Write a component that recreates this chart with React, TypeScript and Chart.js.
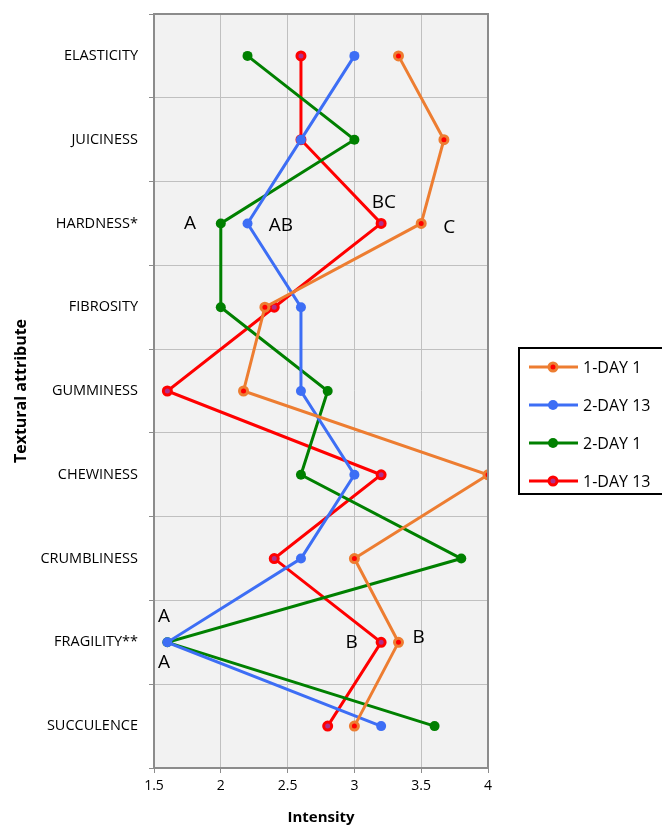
import React, { useEffect, useRef } from "react";
import { Chart, registerables } from "chart.js";

Chart.register(...registerables);

const categories = [
  "ELASTICITY",
  "JUICINESS",
  "HARDNESS*",
  "FIBROSITY",
  "GUMMINESS",
  "CHEWINESS",
  "CRUMBLINESS",
  "FRAGILITY**",
  "SUCCULENCE",
];

const day1Group1 = [3.33, 3.67, 3.5, 2.33, 2.17, 4.0, 3.0, 3.33, 3.0];
const day13Group2 = [3.0, 2.6, 2.2, 2.6, 2.6, 3.0, 2.6, 1.6, 3.2];
const day1Group2 = [2.2, 3.0, 2.0, 2.0, 2.8, 2.6, 3.8, 1.6, 3.6];
const day13Group1 = [2.6, 2.6, 3.2, 2.4, 1.6, 3.2, 2.4, 3.2, 2.8];

const seriesNames = ["1-DAY 1", "2-DAY 13", "2-DAY 1", "1-DAY 13"];

const xTicks = [1.5, 2, 2.5, 3, 3.5, 4];
const xTickLabels = ["1.5", "2", "2.5", "3", "3.5", "4"];

const annotations = [
  { text: "A", category: 2, value: 1.77, shift: 0 },
  { text: "AB", category: 2, value: 2.45, shift: 0.03 },
  { text: "BC", category: 2, value: 3.22, shift: -0.25 },
  { text: "C", category: 2, value: 3.71, shift: 0.05 },
  { text: "A", category: 7, value: 1.575, shift: -0.31 },
  { text: "A", category: 7, value: 1.575, shift: 0.24 },
  { text: "B", category: 7, value: 2.98, shift: 0 },
  { text: "B", category: 7, value: 3.48, shift: -0.06 },
];

const FONT = "'Open Sans', 'DejaVu Sans', sans-serif";

const COLORS = {
  orange: "#ed7d31",
  blue: "#3d6ef5",
  green: "#008000",
  red: "#ff0000",
};

export default function App() {
  const canvasRef = useRef<HTMLCanvasElement | null>(null);

  useEffect(() => {
    document.body.style.margin = "0";
    const canvas = canvasRef.current;
    if (!canvas) return;

    const styles = [
      { color: COLORS.orange, fill: "#ff0000", radius: 4, bw: 3 },
      { color: COLORS.blue, fill: COLORS.blue, radius: 5, bw: 0 },
      { color: COLORS.green, fill: COLORS.green, radius: 5, bw: 0 },
      { color: COLORS.red, fill: "#b0308a", radius: 4, bw: 3 },
    ];
    const values = [day1Group1, day13Group2, day1Group2, day13Group1];

    const bgPlugin = {
      id: "bg",
      beforeDraw(chart: any) {
        const { ctx, chartArea } = chart;
        ctx.save();
        ctx.fillStyle = "#f2f2f2";
        ctx.fillRect(chartArea.left, chartArea.top, chartArea.right - chartArea.left, chartArea.bottom - chartArea.top);
        ctx.restore();
      },
      afterDatasetsDraw(chart: any) {
        const { ctx, chartArea } = chart;
        ctx.save();
        ctx.strokeStyle = "#8c8c8c";
        ctx.lineWidth = 2;
        ctx.strokeRect(chartArea.left, chartArea.top, chartArea.right - chartArea.left, chartArea.bottom - chartArea.top);
        ctx.restore();
      },
    };

    const annotationPlugin = {
      id: "annot",
      afterDraw(chart: any) {
        const { ctx } = chart;
        const xs = chart.scales.x;
        const ys = chart.scales.y;
        const band = ys.getPixelForValue(1) - ys.getPixelForValue(0);
        ctx.save();
        ctx.fillStyle = "#000";
        ctx.font = `19px ${FONT}`;
        ctx.textAlign = "center";
        ctx.textBaseline = "middle";
        annotations.forEach((a) => {
          const x = xs.getPixelForValue(a.value);
          const y = ys.getPixelForValue(a.category) + a.shift * band;
          ctx.fillText(a.text, x, y);
        });
        ctx.restore();
      },
    };

    const legendPlugin = {
      id: "customLegend",
      afterDraw(chart: any) {
        const { ctx } = chart;
        const boxX = 519;
        const boxY = 348;
        const boxW = 200;
        const boxH = 146;
        ctx.save();
        ctx.fillStyle = "#fff";
        ctx.fillRect(boxX, boxY, boxW, boxH);
        ctx.strokeStyle = "#000";
        ctx.lineWidth = 2;
        ctx.strokeRect(boxX, boxY, boxW, boxH);
        const rowGap = 38;
        seriesNames.forEach((name, i) => {
          const s = styles[i];
          const y = boxY + 19 + i * rowGap;
          ctx.strokeStyle = s.color;
          ctx.lineWidth = 3;
          ctx.beginPath();
          ctx.moveTo(529, y);
          ctx.lineTo(578, y);
          ctx.stroke();
          ctx.beginPath();
          ctx.arc(553, y, s.radius, 0, Math.PI * 2);
          ctx.fillStyle = s.fill;
          ctx.fill();
          if (s.bw > 0) {
            ctx.lineWidth = s.bw;
            ctx.strokeStyle = s.color;
            ctx.stroke();
          }
          ctx.fillStyle = "#000";
          ctx.font = `16px ${FONT}`;
          ctx.textAlign = "left";
          ctx.textBaseline = "middle";
          ctx.fillText(name, 583, y + 1);
        });
        ctx.restore();
      },
    };

    const chart = new Chart(canvas, {
      type: "line",
      data: {
        labels: categories,
        datasets: seriesNames.map((name, i) => ({
          label: name,
          data: values[i],
          borderColor: styles[i].color,
          backgroundColor: styles[i].fill,
          borderWidth: 3,
          pointRadius: styles[i].radius,
          pointHoverRadius: styles[i].radius,
          pointBackgroundColor: styles[i].fill,
          pointBorderColor: styles[i].color,
          pointBorderWidth: styles[i].bw,
          tension: 0,
          fill: false,
        })),
      },
      options: {
        indexAxis: "y",
        responsive: false,
        animation: false,
        layout: { padding: { top: 14, right: 174, left: 0, bottom: 0 } },
        plugins: {
          legend: { display: false },
          tooltip: { enabled: false },
        },
        scales: {
          x: {
            type: "linear",
            min: 1.5,
            max: 4,
            afterBuildTicks(scale: any) {
              scale.ticks = xTicks.map((v) => ({ value: v }));
            },
            afterFit(scale: any) {
              scale.height = 59;
              scale.paddingLeft = 0;
              scale.paddingRight = 0;
            },
            ticks: {
              color: "#000",
              font: { family: FONT, size: 14 },
              padding: 5,
              maxRotation: 0,
              callback: (v: any) => {
                const idx = xTicks.indexOf(Number(v));
                return idx >= 0 ? xTickLabels[idx] : String(v);
              },
            },
            grid: {
              color: "#c0c0c0",
              lineWidth: 1,
              tickLength: 5,
              tickColor: "#8c8c8c",
            },
            border: { color: "#8c8c8c", width: 2 },
            title: {
              display: true,
              text: "Intensity",
              color: "#000",
              font: { family: FONT, size: 15, weight: "bold" },
              padding: { top: 0, bottom: 0 },
            },
          },
          y: {
            type: "category",
            offset: true,
            afterFit(scale: any) {
              scale.width = 154;
              scale.paddingTop = 0;
              scale.paddingBottom = 0;
            },
            ticks: {
              color: "#000",
              font: { family: FONT, size: 14.5 },
              padding: 11,
              autoSkip: false,
            },
            grid: {
              offset: true,
              color: "#c0c0c0",
              lineWidth: 1,
              tickLength: 5,
              tickColor: "#8c8c8c",
            },
            border: { color: "#8c8c8c", width: 2 },
            title: {
              display: true,
              text: "Textural attribute",
              color: "#000",
              font: { family: FONT, size: 16, weight: "bold" },
              padding: { top: 12, bottom: 0 },
            },
          },
        },
      } as any,
      plugins: [bgPlugin, annotationPlugin, legendPlugin],
    });

    return () => {
      chart.destroy();
    };
  }, []);

  return (
    <div style={{ width: 662, height: 827, position: "relative" }}>
      <canvas ref={canvasRef} width={662} height={827} />
    </div>
  );
}
